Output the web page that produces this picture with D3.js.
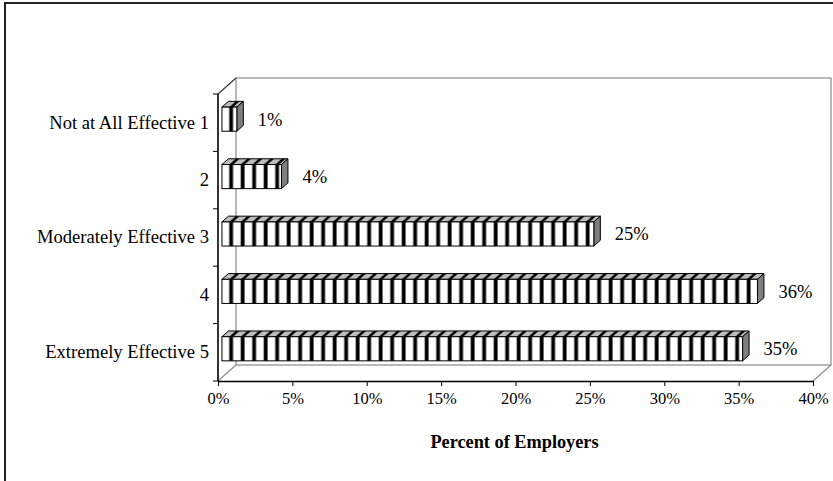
<!DOCTYPE html>
<html>
<head>
<meta charset="utf-8">
<script src="https://cdn.jsdelivr.net/npm/d3@7"></script>
<style>
  body { margin: 0; background: #fff; }
  svg { display: block; font-family: "Liberation Serif", "Times New Roman", serif; }
</style>
</head>
<body>
<div id="chart"></div>
<script>
// data
const categories = ["Not at All Effective 1", "2", "Moderately Effective 3", "4", "Extremely Effective 5"];
const percents = [1, 4, 25, 36, 35];
const xTicks = [0, 5, 10, 15, 20, 25, 30, 35, 40];
const xTitle = "Percent of Employers";

const w = 833, h = 481;
const x0 = 218, x1 = 813, yTop = 94, yBot = 381;
const dx = 18, dy = -16;          // depth of the 3d box
const d1 = 0.22, d2 = 0.58;       // where the bars sit in depth

const svg = d3.select("#chart").append("svg")
  .attr("width", w)
  .attr("height", h);

// outer frame
svg.append("rect")
  .attr("x", 5).attr("y", 3)
  .attr("width", w).attr("height", h)
  .attr("fill", "none")
  .attr("stroke", "#222")
  .attr("stroke-width", 2);

const xScale = d3.scaleLinear().domain([0, 40]).range([x0, x1]);
const yScale = d3.scaleBand().domain(categories).range([yTop, yBot])
  .paddingInner(0.58).paddingOuter(0.29);

// walls
const grey = "#8a8a8a";
const walls = svg.append("g").attr("fill", "none").attr("stroke", grey).attr("stroke-width", 1.2);
walls.append("rect")
  .attr("x", x0 + dx).attr("y", yTop + dy)
  .attr("width", x1 - x0).attr("height", yBot - yTop);
walls.append("line").attr("x1", x0).attr("y1", yBot).attr("x2", x0 + dx).attr("y2", yBot + dy);
walls.append("line").attr("x1", x1).attr("y1", yBot).attr("x2", x1 + dx).attr("y2", yBot + dy);
walls.append("line").attr("x1", x0).attr("y1", yTop).attr("x2", x0 + dx).attr("y2", yTop + dy)
  .attr("stroke", "#333");

// stripe patterns
const defs = svg.append("defs");
const period = 11.5, stripeW = 3.8, stripeOff = 7.3;
const front = defs.append("pattern")
  .attr("id", "front")
  .attr("patternUnits", "userSpaceOnUse")
  .attr("x", x0 + dx * d1).attr("y", 0)
  .attr("width", period).attr("height", 10);
front.append("rect").attr("width", period).attr("height", 10).attr("fill", "#fff");
front.append("rect").attr("x", stripeOff).attr("width", stripeW).attr("height", 10).attr("fill", "#000");

const barTop = (d, i) => yScale(categories[i]) + dy * d1;
const skew = Math.atan(dx / dy) * 180 / Math.PI;

defs.selectAll(".toppat")
  .data(percents)
  .join("pattern")
  .attr("class", "toppat")
  .attr("id", (d, i) => "top" + i)
  .attr("patternUnits", "userSpaceOnUse")
  .attr("width", period).attr("height", 10)
  .attr("patternTransform", (d, i) => `translate(${x0 + dx * d1},${barTop(d, i)}) skewX(${skew})`)
  .each(function () {
    const p = d3.select(this);
    p.append("rect").attr("width", period).attr("height", 10).attr("fill", "#bdbdbd");
    p.append("rect").attr("x", stripeOff).attr("width", stripeW).attr("height", 10).attr("fill", "#000");
  });

// bars
const ox = dx * d1;
const ddx = dx * (d2 - d1), ddy = dy * (d2 - d1);
const bars = svg.append("g").selectAll("g")
  .data(percents)
  .join("g");

bars.append("path")
  .attr("fill", (d, i) => `url(#top${i})`)
  .attr("stroke", "#000")
  .attr("d", (d, i) => {
    const xa = xScale(0) + ox, xb = xScale(d) + ox, yt = barTop(d, i);
    return `M${xa},${yt}L${xb},${yt}L${xb + ddx},${yt + ddy}L${xa + ddx},${yt + ddy}Z`;
  });

bars.append("path")
  .attr("fill", "#7f7f7f")
  .attr("stroke", "#000")
  .attr("d", (d, i) => {
    const xb = xScale(d) + ox, yt = barTop(d, i), yb = yt + yScale.bandwidth();
    return `M${xb},${yt}L${xb + ddx},${yt + ddy}L${xb + ddx},${yb + ddy}L${xb},${yb}Z`;
  });

bars.append("rect")
  .attr("x", xScale(0) + ox)
  .attr("y", (d, i) => barTop(d, i))
  .attr("width", d => xScale(d) - xScale(0))
  .attr("height", yScale.bandwidth())
  .attr("fill", "url(#front)")
  .attr("stroke", "#000");

// value labels
svg.append("g").selectAll("text")
  .data(percents)
  .join("text")
  .attr("x", d => xScale(d) + ox + 21)
  .attr("y", (d, i) => barTop(d, i) + yScale.bandwidth() / 2)
  .attr("dy", "0.35em")
  .style("font-size", "18.5px")
  .text(d => d + "%");

// axes
const xAxis = d3.axisBottom(xScale)
  .tickValues(xTicks)
  .tickFormat(d => d + "%")
  .tickSize(5)
  .tickSizeOuter(0)
  .tickPadding(6);

const gx = svg.append("g")
  .attr("transform", "translate(0," + yBot + ")")
  .call(xAxis);
gx.attr("font-family", null).attr("font-size", null);
gx.selectAll("text").style("font-size", "16.5px").attr("fill", "#000");
gx.select(".domain").attr("stroke-width", 1.6);

const yAxis = d3.axisLeft(yScale).tickSize(0).tickPadding(9);
const gy = svg.append("g")
  .attr("transform", "translate(" + x0 + ",0)")
  .call(yAxis);
gy.attr("font-family", null).attr("font-size", null);
gy.selectAll("text").style("font-size", "18.6px").attr("fill", "#000");
gy.select(".domain").attr("stroke-width", 1.6).attr("d", `M0,${yTop}V${yBot}`);

// ticks between the categories on the left axis
const step = yScale.step();
svg.append("g").selectAll("line")
  .data(d3.range(categories.length + 1))
  .join("line")
  .attr("x1", x0 - 5).attr("x2", x0)
  .attr("y1", i => yTop + i * step)
  .attr("y2", i => yTop + i * step)
  .attr("stroke", "#000");

svg.append("text")
  .attr("x", (x0 + x1) / 2 - 1)
  .attr("y", 448)
  .attr("text-anchor", "middle")
  .style("font-size", "18.3px")
  .style("font-weight", "bold")
  .text(xTitle);
</script>
</body>
</html>
